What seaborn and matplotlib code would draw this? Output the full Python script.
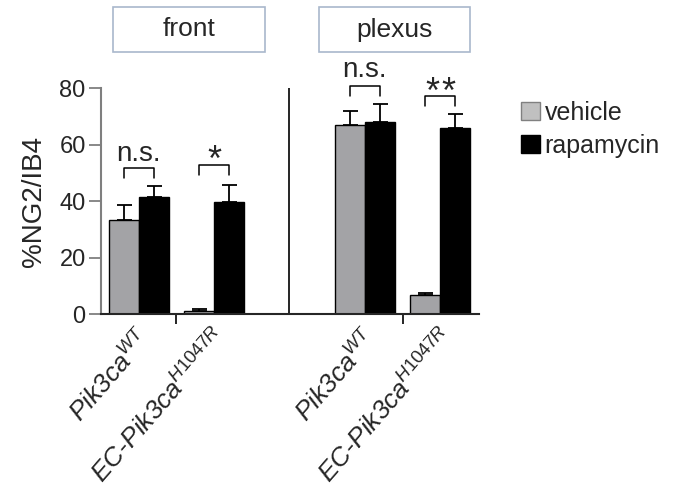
import numpy as np
import pandas as pd
import matplotlib
matplotlib.use("Agg")
import matplotlib.pyplot as plt
import matplotlib.transforms as mtransforms
from matplotlib.patches import Rectangle, Patch
import seaborn as sns

# values (mean and SEM, %NG2/IB4)
groups = ["front_WT", "front_EC", "plexus_WT", "plexus_EC"]
group_labels = [r"Pik3ca$^{\mathit{WT}}$", r"EC-Pik3ca$^{\mathit{H1047R}}$",
                r"Pik3ca$^{\mathit{WT}}$", r"EC-Pik3ca$^{\mathit{H1047R}}$"]
vehicle_mean = [33.4, 1.2, 66.9, 6.7]
vehicle_sem = [5.4, 0.6, 5.1, 0.7]
rapamycin_mean = [41.4, 39.9, 68.2, 66.0]
rapamycin_sem = [4.0, 5.8, 6.4, 4.8]
treatments = ["vehicle", "rapamycin"]
regions = ["front", "plexus"]
signif = ["n.s.", "*", "n.s.", "**"]

# empty slot between front and plexus
order = ["front_WT", "front_EC", "gap", "plexus_WT", "plexus_EC"]

df = pd.DataFrame({
    "group": groups * 2,
    "treatment": ["vehicle"] * 4 + ["rapamycin"] * 4,
    "value": vehicle_mean + rapamycin_mean,
    "sem": vehicle_sem + rapamycin_sem,
})

sns.set_style("ticks")
plt.rcParams["font.family"] = ["Liberation Sans", "DejaVu Sans"]
plt.rcParams["mathtext.fontset"] = "custom"
plt.rcParams["mathtext.rm"] = "Liberation Sans"
plt.rcParams["mathtext.it"] = "Liberation Sans:italic"

bar_colors = {"vehicle": "#a3a2a7", "rapamycin": "#000000"}

fig = plt.figure(figsize=(6.82, 4.90), dpi=100)
ax = fig.add_axes([101 / 682, 1 - 314.3 / 490, 378.5 / 682, 226 / 490])

sns.barplot(data=df, x="group", y="value", hue="treatment", order=order,
            hue_order=treatments, palette=bar_colors, errorbar=None,
            edgecolor="black", linewidth=1, legend=False, ax=ax)

# upward-only error bars, matched to bars by position
sem_lookup = {(g, t): s for g, t, s in zip(df["group"], df["treatment"], df["sem"])}
for cont, trt in zip(ax.containers, treatments):
    for bar in cont:
        xc = bar.get_x() + bar.get_width() / 2
        h = bar.get_height()
        if np.isnan(h):
            continue
        g = order[int(round(xc))]
        e = sem_lookup[(g, trt)]
        ax.errorbar(xc, h, yerr=[[0], [e]], fmt="none", ecolor="black",
                    elinewidth=1.3, capsize=5.4, capthick=1.3, zorder=1)

ax.set_ylim(0, 80)
ax.set_xlim(-0.5, 4.52)
ax.set_yticks([0, 20, 40, 60, 80])
ax.tick_params(axis="y", labelsize=17, length=9, width=1.3, color="#7f7f7f", pad=2)

label_pos = [order.index(g) for g in groups]
ax.set_xticks(label_pos)
ax.set_xticklabels(group_labels, rotation=49, ha="right", va="center",
                   rotation_mode="anchor", fontsize=19, fontstyle="italic")
ax.tick_params(axis="x", which="major", length=0, pad=14)
shift = mtransforms.ScaledTranslation(9 / 100, 0, fig.dpi_scale_trans)
for lab in ax.get_xticklabels():
    lab.set_transform(lab.get_transform() + shift)
ax.set_xticks([0.5, 3.5], minor=True)
ax.tick_params(axis="x", which="minor", length=7, width=1.2, color="black")

ax.set_xlabel("")
ax.set_ylabel("%NG2/IB4", fontsize=20)
ax.yaxis.set_label_coords(-0.142, 0.5)

sns.despine(ax=ax)
ax.spines["left"].set_color("#7f7f7f")
ax.spines["left"].set_linewidth(1.5)
ax.spines["bottom"].set_linewidth(1.5)

# divider between the two regions
ax.vlines(2, 0, 80, color="black", linewidth=1.2)

# significance brackets
bracket_top = [51.7, 52.8, 80.8, 77.3]
text_y = [54.4, 50.7, 84.1, 74.8]
for pos, top, ty, s in zip(label_pos, bracket_top, text_y, signif):
    ax.plot([pos - 0.2, pos - 0.2, pos + 0.2, pos + 0.2],
            [top - 3.6, top, top, top - 3.6], color="black", lw=1.1,
            clip_on=False)
    if s == "n.s.":
        ax.text(pos, ty, s, ha="center", va="baseline", fontsize=20, clip_on=False)
    else:
        # stars drawn one by one so they sit a little apart
        n = len(s)
        for k in range(n):
            ax.text(pos + (k - (n - 1) / 2) * 0.21, ty, "*", ha="center",
                    va="baseline", fontsize=26, clip_on=False)

# region boxes above the panel
trans = mtransforms.blended_transform_factory(ax.transData, fig.transFigure)
box_x = [-0.34, 2.39]
for bx, name in zip(box_x, regions):
    ax.add_patch(Rectangle((bx, 1 - 51.7 / 490), 2.01, 44.4 / 490,
                           transform=trans, facecolor="white",
                           edgecolor="#a9b8cc", linewidth=1.2, clip_on=False))
    ax.text(bx + 1.005, 1 - 29.5 / 490, name, transform=trans, ha="center",
            va="center", fontsize=19)

handles = [Patch(facecolor="#c0c0c0", edgecolor="#808080", label="vehicle"),
           Patch(facecolor="black", edgecolor="black", label="rapamycin")]
fig.legend(handles=handles, loc="upper left", bbox_to_anchor=(521 / 682, 1 - 101 / 490),
           frameon=False, fontsize=18, handlelength=0.75, handleheight=0.75,
           handletextpad=0.2, labelspacing=0.35, borderpad=0, borderaxespad=0)

fig.savefig("out.png", dpi=100)
